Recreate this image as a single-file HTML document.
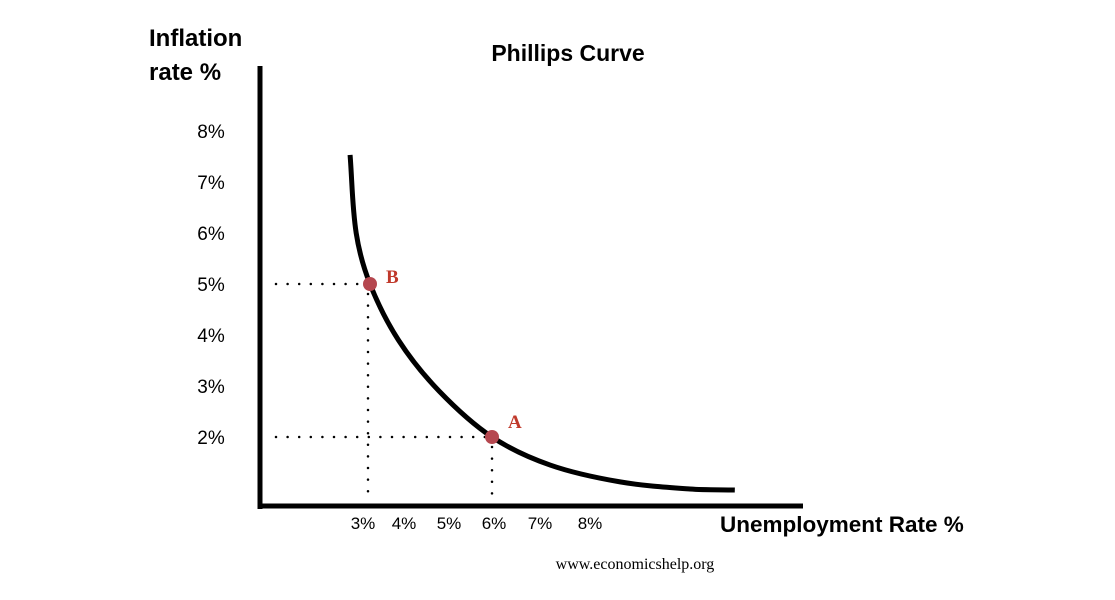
<!DOCTYPE html>
<html><head><meta charset="utf-8"><style>
body{margin:0;background:#fff;width:1115px;height:600px;overflow:hidden}
svg{display:block}
.sans{font-family:"Liberation Sans",sans-serif}
</style></head><body>
<svg id="chart" width="1115" height="600">
<text x="568" y="61" text-anchor="middle" class="sans" font-weight="bold" font-size="23">Phillips Curve</text>
<text x="149" y="46" class="sans" font-weight="bold" font-size="24">Inflation</text>
<text x="149" y="80" class="sans" font-weight="bold" font-size="24">rate %</text>
<text x="720" y="532" class="sans" font-weight="bold" font-size="22.5">Unemployment Rate %</text>
<text x="635" y="569" text-anchor="middle" font-family="Liberation Serif,serif" font-size="16">www.economicshelp.org</text>
<g id="ticks"></g>
<g id="guides"></g>
<path id="curve" fill="none" stroke="#000" stroke-width="5"></path>
<line x1="260" y1="66" x2="260" y2="509" stroke="#000" stroke-width="5"/>
<line x1="258" y1="506" x2="803" y2="506" stroke="#000" stroke-width="5"/>
<g id="points"></g>
</svg>
<script>
const yTicks=[8,7,6,5,4,3,2];
const xTicks=[3,4,5,6,7,8];
const curveX=[2.51,2.66,3,3.7,4.7,6,7.43,9.15,10.87,11.97];
const curveY=[7.53,6.0,5,3.9,2.9,2,1.45,1.12,0.98,0.96];
const pointNames=["B","A"];
const pointX=[3,6];
const pointY=[5,2];
const xs=v=>370+(v-3)*40.67;
const ys=v=>284-(v-5)*51;
const NS="http://www.w3.org/2000/svg";
function mk(tag,attrs,parent){const e=document.createElementNS(NS,tag);for(const k in attrs)e.setAttribute(k,attrs[k]);parent.appendChild(e);return e;}
const tg=document.getElementById('ticks');
yTicks.forEach(v=>{const t=mk('text',{x:211,y:ys(v)+7,'text-anchor':'middle','font-size':19,'font-family':'Liberation Sans,sans-serif'},tg);t.textContent=v+'%';

});
xTicks.forEach((v,i)=>{const t=mk('text',{x:363+[0,41,86,131,177,227][i],y:529,'text-anchor':'middle','font-size':17,'font-family':'Liberation Sans,sans-serif'},tg);t.textContent=v+'%';

});
const P=curveX.map((x,i)=>[xs(x),ys(curveY[i])]);
const n=P.length;
const dist=(a,b)=>Math.hypot(b[0]-a[0],b[1]-a[1]);
const M=P.map((p,i)=>{const a=P[Math.max(i-1,0)],b=P[Math.min(i+1,n-1)];const L=dist(a,p)+dist(p,b);return [(b[0]-a[0])/L,(b[1]-a[1])/L];});
let d=`M${P[0][0]},${P[0][1]}`;
for(let i=0;i<n-1;i++){const p1=P[i],p2=P[i+1],L=dist(p1,p2);
d+=` C${p1[0]+M[i][0]*L/3},${p1[1]+M[i][1]*L/3} ${p2[0]-M[i+1][0]*L/3},${p2[1]-M[i+1][1]*L/3} ${p2[0]},${p2[1]}`;}
document.getElementById('curve').setAttribute('d',d);
const gg=document.getElementById('guides'),pg=document.getElementById('points');
pointX.forEach((x,i)=>{const px=xs(x),py=ys(pointY[i]);
const h=mk('line',{x1:276,y1:py,x2:px,y2:py,stroke:'#000','stroke-width':2.5,'stroke-dasharray':'0 11.6','stroke-linecap':'round'},gg);


const vx=i===0?px-2:px;
const v=mk('line',{x1:vx,y1:py+10,x2:vx,y2:500,stroke:'#000','stroke-width':2.5,'stroke-dasharray':'0 11.6','stroke-linecap':'round'},gg);


const c=mk('circle',{cx:px,cy:py,r:7,fill:'#b5474f'},pg);


const l=mk('text',{x:px+16,y:py-(i===0?1:9),'font-size':19,'font-weight':'bold',fill:'#c0392b','font-family':'Liberation Serif,serif'},pg);l.textContent=pointNames[i];

});
</script>
</body></html>
